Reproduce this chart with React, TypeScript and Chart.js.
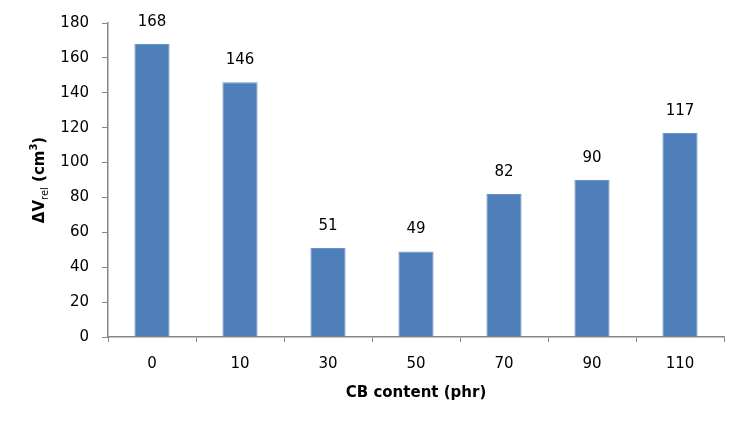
import React, { useEffect, useRef } from "react";
import { Chart, registerables } from "chart.js";

Chart.register(...registerables);

const categories = ["0", "10", "30", "50", "70", "90", "110"];
const values = [168, 146, 51, 49, 82, 90, 117];
const yTicksMax = 180;
const yStep = 20;
const xTitle = "CB content (phr)";

const FONT = "'DejaVu Sans', Verdana, sans-serif";
const AXIS = "#868686";

const labelsPlugin = {
  id: "customText",
  afterDatasetsDraw(chart: any) {
    const ctx = chart.ctx;
    const meta = chart.getDatasetMeta(0);
    ctx.save();
    ctx.fillStyle = "#000";
    ctx.font = `15px ${FONT}`;
    ctx.textAlign = "center";
    ctx.textBaseline = "middle";
    meta.data.forEach((bar: any, i: number) => {
      ctx.fillText(String(values[i]), bar.x, bar.y - 22);
    });
    ctx.restore();
  },
  afterDraw(chart: any) {
    const ctx = chart.ctx;
    const area = chart.chartArea;
    ctx.save();
    // x title
    ctx.fillStyle = "#000";
    ctx.font = `bold 15px ${FONT}`;
    ctx.textAlign = "center";
    ctx.textBaseline = "middle";
    ctx.fillText(xTitle, (area.left + area.right) / 2, 393);
    // y title with sub/superscript
    const parts = [
      { t: "ΔV", f: `bold 15px ${FONT}`, dy: 0 },
      { t: "rel", f: `10px ${FONT}`, dy: 5 },
      { t: " (cm", f: `bold 15px ${FONT}`, dy: 0 },
      { t: "3", f: `bold 10px ${FONT}`, dy: -6 },
      { t: ")", f: `bold 15px ${FONT}`, dy: 0 },
    ];
    let total = 0;
    const widths = parts.map((p) => {
      ctx.font = p.f;
      const w = ctx.measureText(p.t).width;
      total += w;
      return w;
    });
    ctx.translate(40, (area.top + area.bottom) / 2);
    ctx.rotate(-Math.PI / 2);
    ctx.textAlign = "left";
    let x = -total / 2;
    parts.forEach((p, i) => {
      ctx.font = p.f;
      ctx.fillText(p.t, x, p.dy);
      x += widths[i];
    });
    ctx.restore();
  },
};

export default function App() {
  const ref = useRef<HTMLCanvasElement>(null);
  useEffect(() => {
    if (!ref.current) return;
    const chart = new Chart(ref.current, {
      type: "bar",
      data: {
        labels: categories,
        datasets: [
          {
            data: values,
            backgroundColor: "#4F7FBA",
            borderColor: "#6A94C8",
            borderWidth: 1,
            barPercentage: 0.4,
            categoryPercentage: 1,
          },
        ],
      },
      options: {
        animation: false,
        responsive: false,
        maintainAspectRatio: false,
        layout: { padding: { top: 23, right: 23, left: 0, bottom: 0 } },
        plugins: {
          legend: { display: false },
          tooltip: { enabled: false },
        },
        scales: {
          x: {
            grid: {
              offset: true,
              drawOnChartArea: false,
              color: AXIS,
              tickLength: 5,
              tickColor: AXIS,
            },
            border: { color: AXIS, width: 1.5 },
            ticks: {
              color: "#000",
              font: { family: FONT, size: 15 },
              padding: 13,
              maxRotation: 0,
            },
            afterFit(scale: any) {
              scale.height = 91;
            },
          },
          y: {
            min: 0,
            max: yTicksMax,
            grid: {
              drawOnChartArea: false,
              color: AXIS,
              tickLength: 6,
              tickColor: AXIS,
            },
            border: { color: AXIS, width: 1.5 },
            ticks: {
              stepSize: yStep,
              color: "#000",
              font: { family: FONT, size: 15 },
              padding: 13,
            },
            afterFit(scale: any) {
              scale.width = 108;
            },
          },
        },
      },
      plugins: [labelsPlugin],
    });
    return () => chart.destroy();
  }, []);
  return (
    <div style={{ position: "absolute", left: 0, top: 0, width: 747, height: 428, background: "#fff" }}>
      <canvas ref={ref} width={747} height={428} style={{ width: 747, height: 428 }} />
    </div>
  );
}
